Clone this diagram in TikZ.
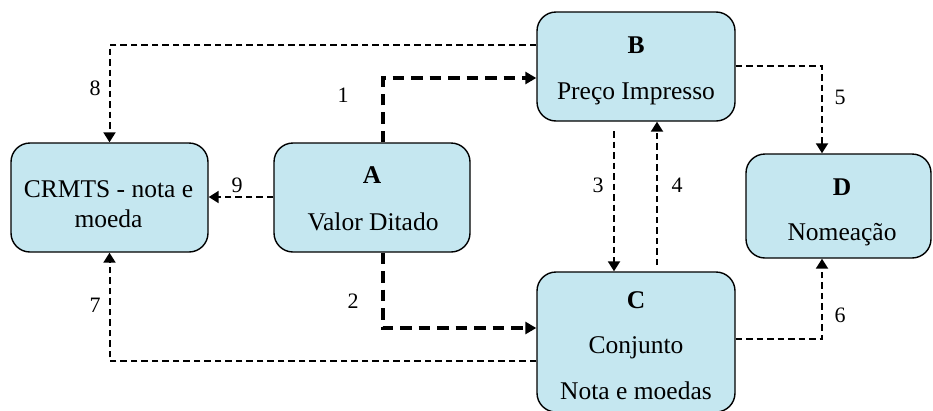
\documentclass[tikz,border=0pt]{standalone}
\usepackage{fontspec}
\setmainfont{Liberation Serif}
\usetikzlibrary{arrows.meta}
\definecolor{boxfill}{RGB}{197,231,240}
\tikzset{
  boxnode/.style={draw=black, line width=1.4pt, fill=boxfill, rounded corners=19pt,
    inner sep=0pt, minimum width=#1},
  txt/.style={anchor=base, inner sep=0pt, font=\fontsize{25.5}{30}\selectfont},
  numlbl/.style={anchor=base, inner sep=0pt, font=\fontsize{22}{26}\selectfont},
  thinflow/.style={line width=2pt, dash pattern=on 6.5pt off 4pt,
    -{Triangle[length=10pt,width=12pt]}},
  thickflow/.style={line width=3.4pt, dash pattern=on 11.5pt off 7pt,
    -{Triangle[length=11pt,width=12pt]}}
}
\begin{document}
\begin{tikzpicture}[x=1pt,y=-1pt]
\useasboundingbox (0,0) rectangle (933,410);
% boxes
\node[boxnode=197pt, minimum height=109pt] (CR) at (109.5,197.5) {};
\node[boxnode=196pt, minimum height=109pt] (A) at (372,197.5) {};
\node[boxnode=198pt, minimum height=109pt] (B) at (636,66.5) {};
\node[boxnode=185pt, minimum height=104pt] (D) at (838.5,206) {};
\node[boxnode=198pt, minimum height=140pt] (C) at (636,342) {};
% box texts
\node[txt] (t1) at (108.5,197) {CRMTS - nota e};
\node[txt] (t2) at (108.5,227) {moeda};
\node[txt] (t3) at (372,183) {\textbf{A}};
\node[txt] (t4) at (373,230) {Valor Ditado};
\node[txt] (t5) at (636,53) {\textbf{B}};
\node[txt] (t6) at (636,99) {Preço Impresso};
\node[txt] (t7) at (842,195) {\textbf{D}};
\node[txt] (t8) at (842,240) {Nomeação};
\node[txt] (t9) at (636,308) {\textbf{C}};
\node[txt] (t10) at (636,353) {Conjunto};
\node[txt] (t11) at (636,399) {Nota e moedas};
% routing coordinates
\coordinate (k1) at (383,78);
\coordinate (k2) at (383,328);
\coordinate (k9) at (0,197);
\coordinate (k8) at (0,45);
\coordinate (k7) at (0,361);
\coordinate (k3) at (614,131);
\coordinate (k4) at (657,265);
\coordinate (k5) at (822,66);
\coordinate (k6) at (822,339);
% connectors
\draw[thickflow] (A.north -| k1) |- (B.west |- k1);
\draw[thickflow] (A.south -| k2) |- (C.west |- k2);
\draw[thinflow] (A.west |- k9) -- (CR.east |- k9);
\draw[thinflow] (B.west |- k8) -| (CR.north);
\draw[thinflow] (C.west |- k7) -| (CR.south);
\draw[thinflow] (k3) -- (C.north -| k3);
\draw[thinflow] (k4) -- (B.south -| k4);
\draw[thinflow] (B.east |- k5) -| (D.north -| k5);
\draw[thinflow] (C.east |- k6) -| (D.south -| k6);
% labels
\node[numlbl] (n1) at (343,102) {1};
\node[numlbl] (n2) at (353,308) {2};
\node[numlbl] (n3) at (598,192) {3};
\node[numlbl] (n4) at (677,192) {4};
\node[numlbl] (n5) at (840,104) {5};
\node[numlbl] (n6) at (840,322) {6};
\node[numlbl] (n7) at (95,312) {7};
\node[numlbl] (n8) at (95,95) {8};
\node[numlbl] (n9) at (237,192) {9};
\end{tikzpicture}
\end{document}
